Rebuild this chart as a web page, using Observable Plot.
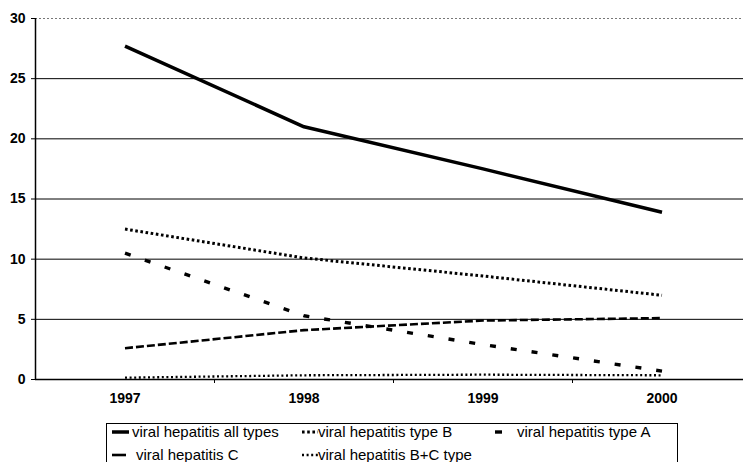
<!DOCTYPE html>
<html>
<head>
<meta charset="utf-8">
<script src="https://cdn.jsdelivr.net/npm/d3@7"></script>
<script src="https://cdn.jsdelivr.net/npm/@observablehq/plot@0.6"></script>
<style>
  html, body { margin: 0; padding: 0; background: #fff; overflow: hidden; width: 743px; height: 462px; }
  #chart { position: absolute; left: 0; top: 0; }
  #legend { position: absolute; left: 106px; top: 423px; width: 572px; height: 60px; border: 1px solid #000; box-sizing: border-box;
            font-family: "Liberation Sans", Arial, sans-serif; font-size: 15px; color: #000; }
  .item { position: absolute; white-space: nowrap; line-height: 16px; }
  .item svg { position: absolute; top: 0; }
</style>
</head>
<body>
<div id="chart"></div>
<div id="legend"></div>
<script>
const years = [1997, 1998, 1999, 2000];
const allTypes = [27.7, 21.0, 17.5, 13.9];
const typeB = [12.5, 10.1, 8.6, 7.0];
const typeA = [10.5, 5.3, 2.9, 0.7];
const typeC = [2.6, 4.1, 4.9, 5.1];
const typeBC = [0.15, 0.35, 0.4, 0.35];
const seriesNames = ["viral hepatitis all types", "viral hepatitis type B", "viral hepatitis type A", "viral hepatitis C", "viral hepatitis B+C type"];
const yTicks = [0, 5, 10, 15, 20, 25, 30];

const seriesValues = [allTypes, typeB, typeA, typeC, typeBC];
const styles = [
  {strokeWidth: 3.5, strokeDasharray: null},
  {strokeWidth: 3, strokeDasharray: "2.6,2.6"},
  {strokeWidth: 3.4, strokeDasharray: "6,15"},
  {strokeWidth: 2.6, strokeDasharray: "8,3"},
  {strokeWidth: 2.3, strokeDasharray: "2,2.6"}
];

const lineMarks = seriesValues.map((vals, k) =>
  Plot.line(years.map((yr, i) => ({year: yr, value: vals[i], series: seriesNames[k]})), {
    x: "year", y: "value", stroke: "#000",
    strokeWidth: styles[k].strokeWidth,
    strokeDasharray: styles[k].strokeDasharray,
    strokeLinecap: "butt",
    strokeLinejoin: "round"
  })
);

const chart = Plot.plot({
  width: 743,
  height: 412,
  marginLeft: 35,
  marginRight: -8,
  marginTop: 18,
  marginBottom: 33,
  style: {fontFamily: "'Liberation Sans', Arial, sans-serif", fontSize: "14px", color: "#000", background: "#fff"},
  x: {domain: [1996.5, 2000.5]},
  y: {domain: [0, 30]},
  marks: [
    Plot.ruleY(yTicks.filter(t => t > 0 && t < 30), {stroke: "#000", strokeWidth: 1}),
    Plot.ruleY([30], {stroke: "#777", strokeWidth: 1, strokeDasharray: "2,2"}),
    Plot.ruleY([0], {stroke: "#000", strokeWidth: 1.5}),
    Plot.ruleX([1996.5], {stroke: "#000", strokeWidth: 1.5}),
    Plot.axisY({ticks: yTicks, tickSize: 4, tickPadding: 6, tickFormat: d => String(d), fontWeight: "bold", label: null}),
    Plot.axisX({ticks: years, tickSize: 0, tickPadding: 14, tickFormat: d => String(d), fontWeight: "bold", label: null}),
    Plot.axisX({ticks: [1997.5, 1998.5, 1999.5], tickSize: 4, tickFormat: () => "", label: null}),
    ...lineMarks
  ]
});
document.getElementById("chart").appendChild(chart);

// Legend
const legend = document.getElementById("legend");
const layout = [
  {left: 5, top: 0, sw: 17, textLeft: 25},
  {left: 195, top: 0, sw: 16, textLeft: 211},
  {left: 388, top: 0, sw: 7, textLeft: 410},
  {left: 5, top: 23, sw: 14, textLeft: 29},
  {left: 195, top: 23, sw: 16, textLeft: 211}
];
seriesNames.forEach((name, k) => {
  const L = layout[k];
  const div = document.createElement("div");
  div.className = "item";
  div.style.left = L.left + "px";
  div.style.top = L.top + "px";
  const st = styles[k];
  const dash = (k === 2 || k === 3) ? null : st.strokeDasharray;
  div.innerHTML = `<svg width="${L.sw}" height="16" style="left:0"><line x1="0" x2="${L.sw}" y1="8" y2="8" stroke="#000" stroke-width="${st.strokeWidth}" ${dash ? `stroke-dasharray="${dash}"` : ""}/></svg><span style="position:absolute;left:${L.textLeft - L.left}px;top:0">${name}</span>`;
  legend.appendChild(div);
});
</script>
</body>
</html>
